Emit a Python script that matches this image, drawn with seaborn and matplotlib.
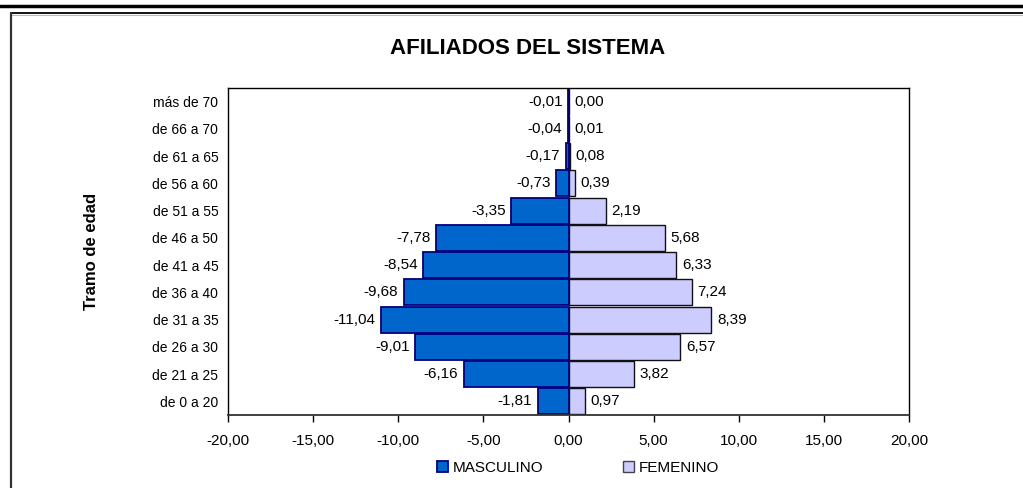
import matplotlib
matplotlib.use('Agg')
import matplotlib.pyplot as plt
from matplotlib.lines import Line2D
from matplotlib.patches import Patch
import seaborn as sns

AGES = ['más de 70', 'de 66 a 70', 'de 61 a 65', 'de 56 a 60', 'de 51 a 55',
        'de 46 a 50', 'de 41 a 45', 'de 36 a 40', 'de 31 a 35', 'de 26 a 30',
        'de 21 a 25', 'de 0 a 20']
MASCULINO = [-0.01, -0.04, -0.17, -0.73, -3.35, -7.78, -8.54, -9.68,
             -11.04, -9.01, -6.16, -1.81]
FEMENINO = [0.00, 0.01, 0.08, 0.39, 2.19, 5.68, 6.33, 7.24, 8.39, 6.57, 3.82, 0.97]
XTICKS = [-20, -15, -10, -5, 0, 5, 10, 15, 20]

COLORS = {
    'male':      '#0066CC',
    'male_edge': '#000080',
    'fem':       '#CCCCFF',
    'fem_edge':  '#111111',
}

sns.set_style('white')
plt.rcParams.update({
    'font.family': ['Liberation Sans', 'DejaVu Sans'],
    'axes.edgecolor': '#000000',
    'axes.linewidth': 1.0,
    'text.color': 'black',
    'axes.labelcolor': 'black',
    'xtick.color': 'black',
    'ytick.color': 'black',
})


def fmt(v):
    return f"{v:.2f}".replace('.', ',')


fig = plt.figure(figsize=(10.23, 4.88), dpi=100)
ax = fig.add_axes([228 / 1023, 1 - 415 / 488, 681 / 1023, 327 / 488])

sns.barplot(x=MASCULINO, y=AGES, orient='h', color=COLORS['male'],
            edgecolor=COLORS['male_edge'], linewidth=1.3, width=0.96,
            saturation=1, ax=ax)
sns.barplot(x=FEMENINO, y=AGES, orient='h', color=COLORS['fem'],
            edgecolor=COLORS['fem_edge'], linewidth=1.0, width=0.96,
            saturation=1, ax=ax)

for i, (m, f) in enumerate(zip(MASCULINO, FEMENINO)):
    ax.annotate(fmt(m), xy=(m, i), xytext=(-4, 0), textcoords='offset points',
                ha='right', va='center', fontsize=11, color='black')
    ax.annotate(fmt(f), xy=(f, i), xytext=(4, 0), textcoords='offset points',
                ha='left', va='center', fontsize=11, color='black')

ax.set_xlim(-20, 20)
ax.set_ylim(len(AGES) - 0.5, -0.5)
ax.set_xticks(XTICKS)
ax.xaxis.set_major_formatter(plt.FuncFormatter(lambda x, _: fmt(x)))
ax.tick_params(axis='x', direction='out', length=5, width=1, pad=9,
               labelsize=11, bottom=True, colors='black')
ax.tick_params(axis='y', length=0, pad=7, labelsize=10, colors='black')
ax.set_xlabel('')
ax.set_ylabel('')
for s in ax.spines.values():
    s.set_visible(True)
    s.set_color('black')
ax.spines['bottom'].set_color('#333333')
ax.spines['bottom'].set_linewidth(1.3)

fig.text(528 / 1023, 1 - 48 / 488, 'AFILIADOS DEL SISTEMA', ha='center',
         va='center', fontsize=16, fontweight='bold', color='black')
fig.text(92 / 1023, 1 - 251 / 488, 'Tramo de edad', ha='center', va='center',
         rotation=90, fontsize=12, fontweight='bold', color='black')

handles = [Patch(facecolor=COLORS['male'], edgecolor=COLORS['male_edge'], lw=1.3),
           Patch(facecolor=COLORS['fem'], edgecolor='#444444', lw=1.0)]
fig.legend(handles, ['MASCULINO', 'FEMENINO'], loc='center',
           bbox_to_anchor=(578 / 1023, 1 - 468 / 488), ncol=2, frameon=False,
           fontsize=11, handlelength=0.72, handleheight=0.72,
           handletextpad=0.3, columnspacing=5.2)

# page frame lines
fig.add_artist(Line2D([0, 1], [1 - 6 / 488, 1 - 6 / 488], color='black', lw=2.5))
fig.add_artist(Line2D([11 / 1023, 1], [1 - 13 / 488, 1 - 13 / 488], color='black', lw=1.3))
fig.add_artist(Line2D([11 / 1023, 1], [1 - 14.8 / 488, 1 - 14.8 / 488], color='#bbbbbb', lw=0.8))
fig.add_artist(Line2D([11 / 1023, 11 / 1023], [0, 1 - 13 / 488], color='#333333', lw=1.6))

fig.savefig('out.png', dpi=100)
